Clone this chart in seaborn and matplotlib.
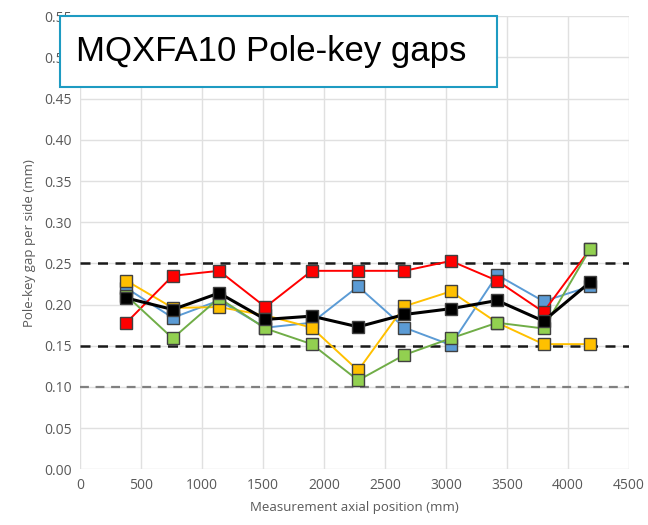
import numpy as np
import pandas as pd
import matplotlib
matplotlib.use("Agg")
import matplotlib.pyplot as plt
from matplotlib.patches import Rectangle
from matplotlib import font_manager
import seaborn as sns

# --- data ---
positions = [380, 760, 1140, 1520, 1900, 2280, 2660, 3040, 3420, 3800, 4180]
gap_blue = [0.220, 0.184, 0.205, 0.172, 0.178, 0.222, 0.172, 0.151, 0.236, 0.204, 0.222]
gap_yellow = [0.229, 0.196, 0.197, 0.187, 0.172, 0.120, 0.198, 0.216, 0.178, 0.152, 0.152]
gap_red = [0.178, 0.235, 0.241, 0.197, 0.241, 0.241, 0.241, 0.253, 0.229, 0.191, 0.267]
gap_green = [0.211, 0.159, 0.208, 0.171, 0.152, 0.108, 0.139, 0.159, 0.178, 0.171, 0.267]
gap_mean = [0.208, 0.194, 0.214, 0.182, 0.186, 0.173, 0.188, 0.195, 0.205, 0.180, 0.227]

series_names = ["blue", "yellow", "red", "green", "mean"]
line_colors = {"blue": "#5B9BD5", "yellow": "#FFC000", "red": "#FF0000",
               "green": "#70AD47", "mean": "#000000"}
face_colors = {"blue": "#5B9BD5", "yellow": "#FFC000", "red": "#FF0000",
               "green": "#92D050", "mean": "#000000"}

df = pd.DataFrame({"pos": positions, "blue": gap_blue, "yellow": gap_yellow,
                   "red": gap_red, "green": gap_green, "mean": gap_mean})
long_df = df.melt(id_vars="pos", var_name="series", value_name="gap")

sns.set_theme(style="white")
plt.rcParams["font.family"] = ["Open Sans", "DejaVu Sans"]

fig = plt.figure(figsize=(6.48, 5.25), dpi=100)
ax = fig.add_axes([0.1235, 0.106, 0.847, 0.863])

grid_c = "#E0E0E0"
ax.set_xlim(0, 4500)
ax.set_ylim(0, 0.55)
ax.set_xticks(np.arange(0, 4501, 500))
ax.set_yticks(np.arange(0, 0.551, 0.05))
ax.yaxis.set_major_formatter(matplotlib.ticker.FormatStrFormatter("%.2f"))
ax.grid(True, color=grid_c, linewidth=1.0)
ax.set_axisbelow(True)
for s in ax.spines.values():
    s.set_visible(False)
ax.tick_params(length=0, labelsize=10, labelcolor="#595959", pad=6)

# reference limits
ax.axhline(0.25, color="#1a1a1a", linestyle=(0, (4, 3)), linewidth=1.8, zorder=1)
ax.axhline(0.15, color="#1a1a1a", linestyle=(0, (4, 3)), linewidth=1.8, zorder=1)
ax.axhline(0.10, color="#808080", linestyle=(0, (4, 3)), linewidth=1.6, zorder=1)

for i, name in enumerate(series_names):
    sub = long_df[long_df["series"] == name]
    lw = 2.2 if name == "mean" else 1.4
    sns.lineplot(data=sub, x="pos", y="gap", ax=ax, color=line_colors[name],
                 linewidth=lw, marker="s", markersize=8.5,
                 markerfacecolor=face_colors[name], markeredgecolor="#404040",
                 markeredgewidth=1.0, zorder=3 + i, legend=False)

ax.set_xlabel("Measurement axial position (mm)", fontsize=9.5, color="#595959", labelpad=6)
ax.set_ylabel("Pole-key gap per side (mm)", fontsize=9.5, color="#595959", labelpad=6)

# title box
names = {f.name for f in font_manager.fontManager.ttflist}
title_family = ["Liberation Sans Narrow", "DejaVu Sans"] if "Liberation Sans Narrow" in names \
    else ["Liberation Sans", "DejaVu Sans"]
title_size = 30 if "Liberation Sans Narrow" in names else 25

fig.patches.append(Rectangle((60 / 648, 1 - 87 / 525), 437 / 648, 71 / 525,
                             transform=fig.transFigure, facecolor="white",
                             edgecolor="#1E9BC2", linewidth=1.5, zorder=10))
fig.text(76 / 648, 1 - 52 / 525, "MQXFA10 Pole-key gaps", fontsize=title_size,
         family=title_family, va="center", ha="left",
         color="black", zorder=11)

fig.savefig("out.png", dpi=100)
